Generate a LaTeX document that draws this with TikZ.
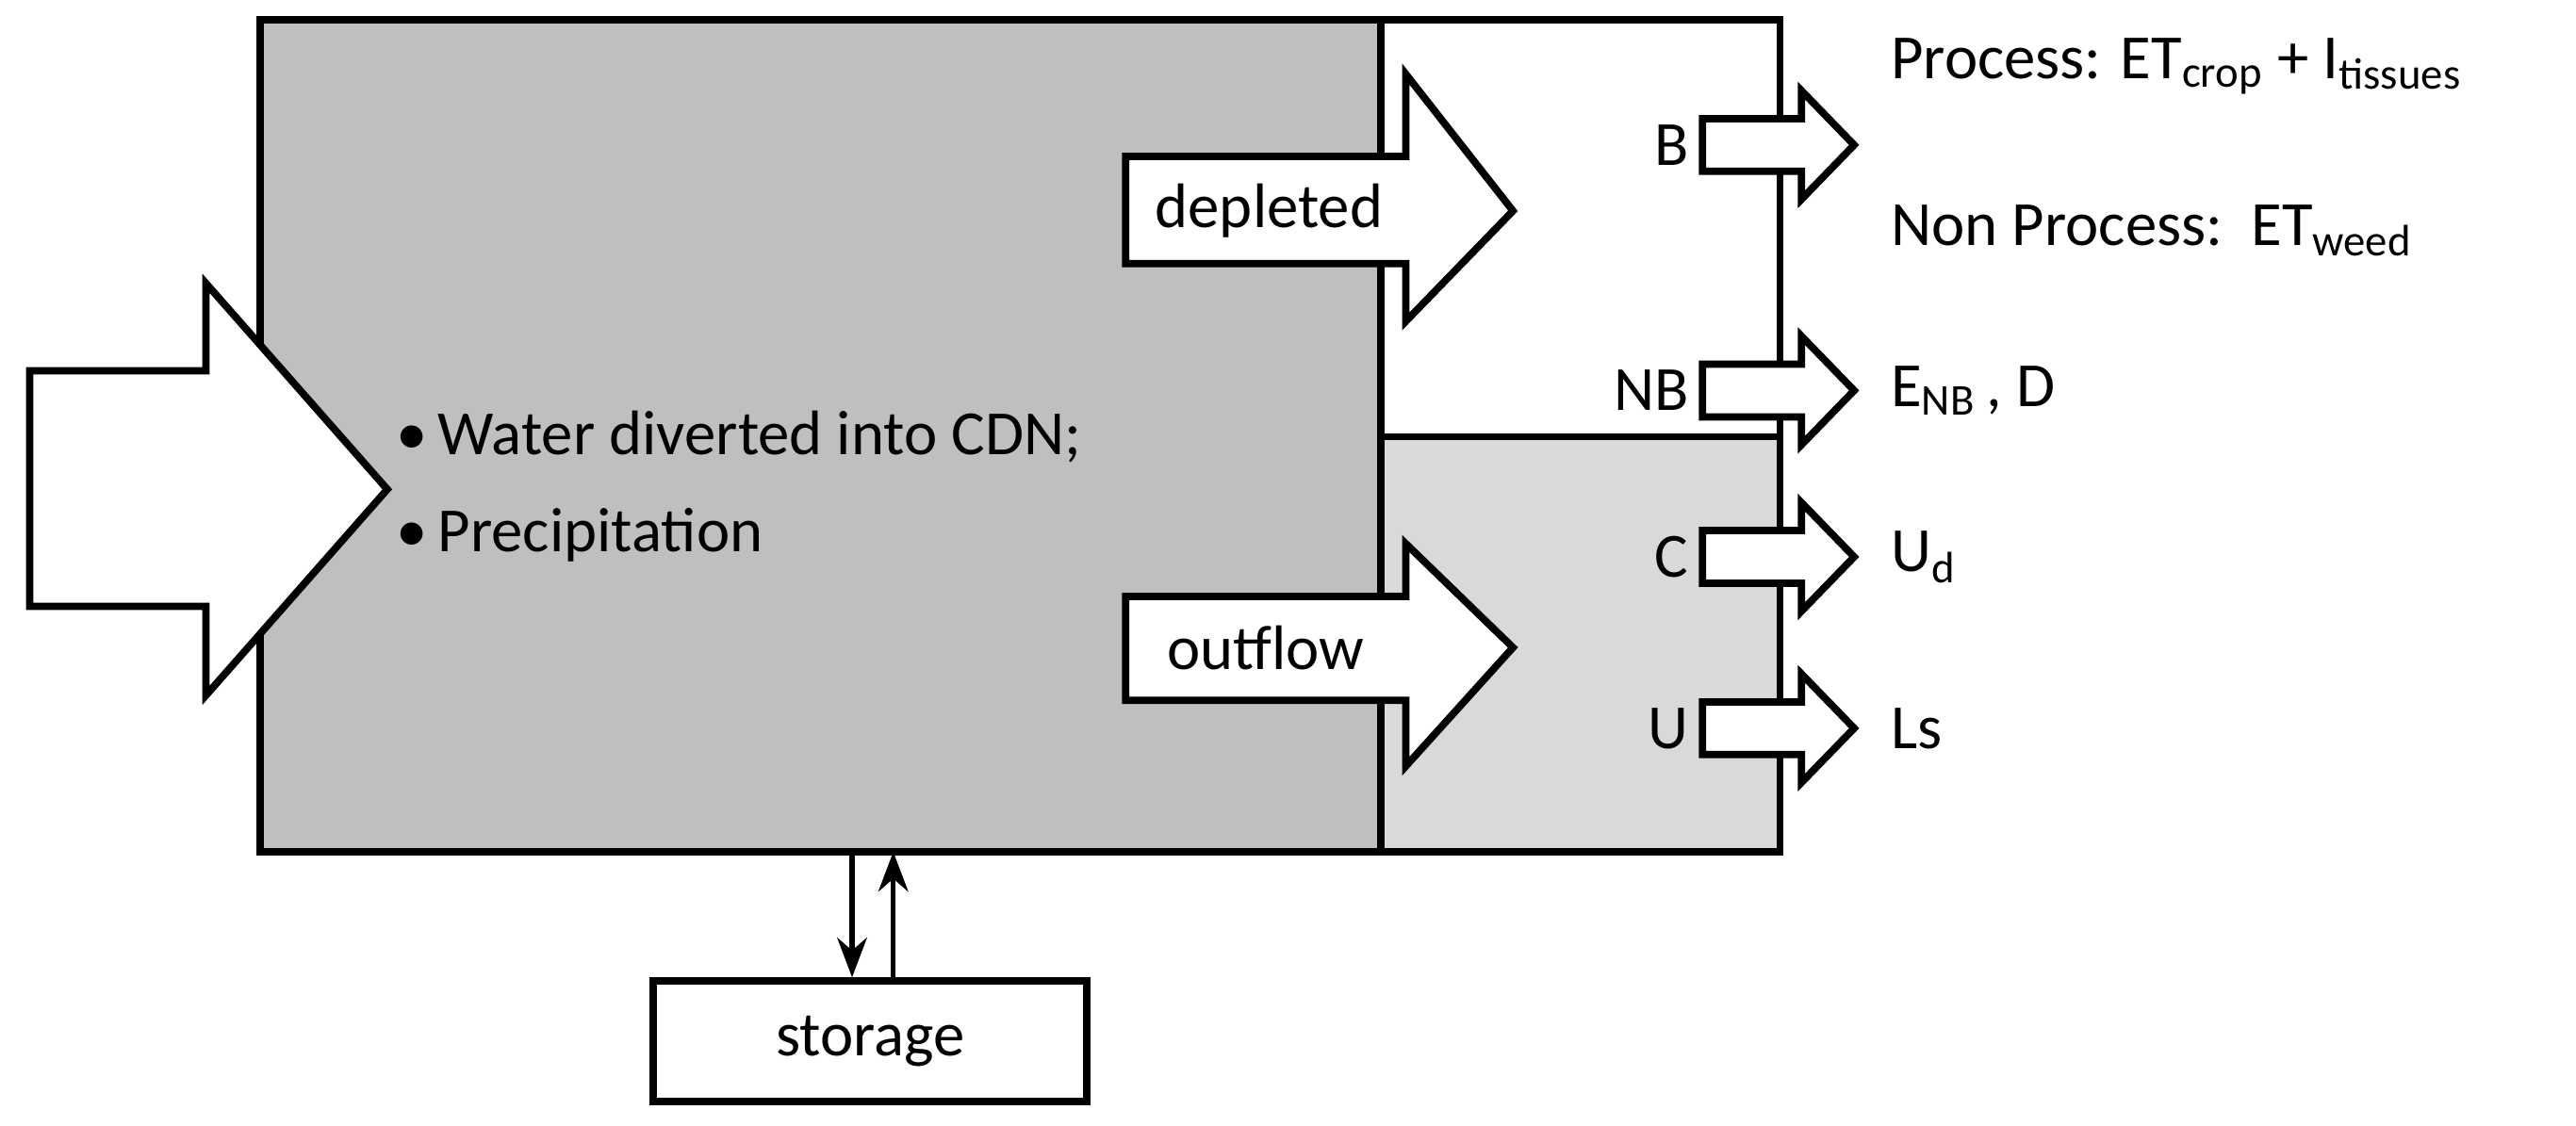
\documentclass[tikz,border=0pt]{standalone}
\usepackage{fontspec}
\setmainfont{Carlito}
\usetikzlibrary{arrows.meta}
\begin{document}
\begin{tikzpicture}[x=0.017486cm,y=-0.017486cm,
  box/.style={draw,line width=2.2pt},
  barrow/.style={draw,fill=white,line width=2.2pt,line join=miter},
  txt/.style={font=\fontsize{19}{22}\selectfont,inner sep=0pt},
  sarrow/.style={->,line width=1.5pt,>={Stealth[length=12pt,width=9pt]}}]
\useasboundingbox (0,0) rectangle (1563,683);
% boxes
\draw[box,fill=black!25] (158,12) rectangle (838,517);
\draw[box,fill=white] (838,12) rectangle (1080,265);
\draw[box,fill=black!15] (838,265) rectangle (1080,517);
\node[box,minimum width=4.6cm,minimum height=1.28cm,txt] (st) at (528,632) {storage};
% big input arrow
\draw[barrow] (18,225) -- (125,225) -- (125,172) -- (235,297) -- (125,422) -- (125,368) -- (18,368) -- cycle;
\node[txt,anchor=west] (w) at (240,265) {\textbullet\,Water diverted into CDN;};
\node[txt,anchor=west] (p) at (240,325) {\textbullet\,Precipitation};
% depleted / outflow
\draw[barrow] (683,95) -- (853,95) -- (853,45) -- (918,128) -- (853,195) -- (853,160) -- (683,160) -- cycle;
\node[txt] (dep) at (770,128) {depleted};
\draw[barrow] (683,362) -- (853,362) -- (853,330) -- (918,393) -- (853,465) -- (853,425) -- (683,425) -- cycle;
\node[txt] (out) at (768,393) {outflow};
% small arrows
\foreach \yy/\lab in {88/B,237/NB,338/C,442/U}{
  \draw[barrow] (1033,\yy-16) -- (1093,\yy-16) -- (1093,\yy-33) -- (1125,\yy) -- (1093,\yy+33) -- (1093,\yy+16) -- (1033,\yy+16) -- cycle;
  \node[txt,anchor=east] at (1025,\yy) {\lab};
}
\node[txt,anchor=west] (r1) at (1147,40) {Process: ET\textsubscript{crop} + I\textsubscript{tissues}};
\node[txt,anchor=west] (r2) at (1147,140) {Non Process:\ \ ET\textsubscript{weed}};
\node[txt,anchor=west] (r3) at (1147,237) {E\textsubscript{NB}\,, D};
\node[txt,anchor=west] (r4) at (1147,338) {U\textsubscript{d}};
\node[txt,anchor=west] (r5) at (1147,442) {Ls};
% storage arrows
\coordinate (d1) at (517,517); \coordinate (d2) at (542,517);
\draw[sarrow] (d1) -- (st.north -| d1);
\draw[sarrow] (st.north -| d2) -- (d2);
\end{tikzpicture}
\end{document}
